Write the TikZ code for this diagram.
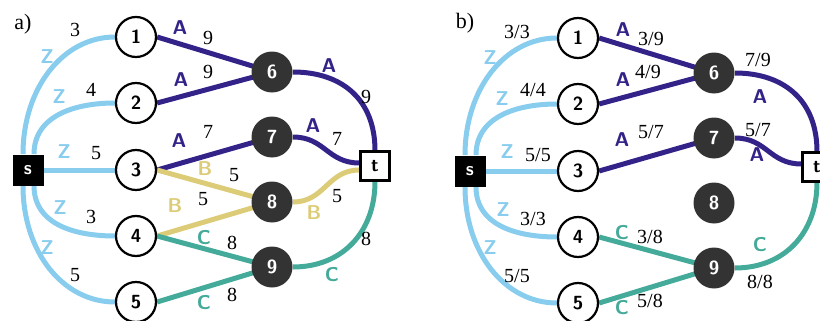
\documentclass[tikz,border=0pt]{standalone}
\usepackage{fontspec}
\setmainfont{Liberation Serif}
\usetikzlibrary{backgrounds}
\definecolor{cZ}{HTML}{88CCEE}
\definecolor{cA}{HTML}{332288}
\definecolor{cB}{HTML}{DDCC77}
\definecolor{cC}{HTML}{44AA99}
\definecolor{cN}{HTML}{333333}
\tikzset{
  nfont/.style={font=\fontsize{9.5}{11}\selectfont\sffamily\bfseries},
  wnode/.style={circle,draw=black,line width=1.1pt,fill=white,minimum size=20pt,inner sep=0pt,nfont},
  dnode/.style={circle,fill=cN,text=white,minimum size=20.5pt,inner sep=0pt,nfont},
  snode/.style={rectangle,fill=black,text=white,minimum size=15.5pt,inner sep=0pt,nfont},
  tnode/.style={rectangle,draw=black,line width=1.1pt,fill=white,minimum size=14.5pt,inner sep=0pt,nfont},
  eZ/.style={draw=cZ,line width=2.5pt},
  eA/.style={draw=cA,line width=2.5pt},
  eB/.style={draw=cB,line width=2.5pt},
  eC/.style={draw=cC,line width=2.5pt},
  num/.style={inner sep=0pt,font=\fontsize{10}{12}\selectfont},
  tag/.style={inner sep=0pt,font=\fontsize{10}{12}\selectfont\sffamily\bfseries},
  tZ/.style={tag,text=cZ},
  tA/.style={tag,text=cA},
  tB/.style={tag,text=cB},
  tC/.style={tag,text=cC},
}
\begin{document}
\begin{tikzpicture}[x=0.5pt,y=-0.5pt]
\useasboundingbox (0,0) rectangle (820,321);
% ---------------- panel a ----------------
\node[num,font=\fontsize{11}{13}\selectfont] (la) at (23,24) {a)};
\node[snode] (as) at (28,170) {s};
\node[tnode] (at) at (375,166) {t};
\node[wnode] (a1) at (136,37) {1};
\node[wnode] (a2) at (136,103) {2};
\node[wnode] (a3) at (136,170) {3};
\node[wnode] (a4) at (136,236) {4};
\node[wnode] (a5) at (136,302) {5};
\node[dnode] (a6) at (272,72) {6};
\node[dnode] (a7) at (272,137) {7};
\node[dnode] (a8) at (272,202) {8};
\node[dnode] (a9) at (272,267) {9};
\begin{pgfonlayer}{background}
\path[eZ] ([xshift=-2.5pt]as.north) .. controls +(0,-66) and +(-52,0) .. (a1.west);
\path[eZ] ([xshift=3pt]as.north) .. controls +(0,-39) and +(-39,0) .. (a2.west);
\path[eZ] (as.east) -- (a3.west);
\path[eZ] ([xshift=3pt]as.south) .. controls +(0,39) and +(-39,0) .. (a4.west);
\path[eZ] ([xshift=-2.5pt]as.south) .. controls +(0,66) and +(-52,0) .. (a5.west);
\path[eA] (a1.east) -- (a6.center);
\path[eA] (a2.east) -- (a6.center);
\path[eA] (a3.east) -- (a7.center);
\path[eB] (a3.east) -- (a8.center);
\path[eB] (a4.east) -- (a8.center);
\path[eC] (a4.east) -- (a9.center);
\path[eC] (a5.east) -- (a9.center);
\path[eA] (a6.east) .. controls +(50,0) and +(0,-50) .. (at.north);
\path[eC] (a9.east) .. controls +(50,0) and +(0,50) .. (at.south);
\path[eA] (a7.east) .. controls +(32,0) and +(-32,0) .. ([yshift=1.5pt]at.west);
\path[eB] (a8.east) .. controls +(32,0) and +(-32,0) .. ([yshift=-2pt]at.west);
\end{pgfonlayer}
\node[tZ] (za1) at (47,57) {Z};
\node[tZ] (za2) at (59,97) {Z};
\node[tZ] (za3) at (64,152) {Z};
\node[tZ] (za4) at (60,208) {Z};
\node[tZ] (za5) at (47,248) {Z};
\node[num] (na1) at (75,30) {3};
\node[num] (na2) at (91,90) {4};
\node[num] (na3) at (96,153) {5};
\node[num] (na4) at (91,217) {3};
\node[num] (na5) at (75,275) {5};
\node[tA] (xa16) at (180,28) {A};
\node[num] (ya16) at (208,38) {9};
\node[tA] (xa26) at (181,80) {A};
\node[num] (ya26) at (208,72) {9};
\node[tA] (xa37) at (179,141) {A};
\node[num] (ya37) at (208,132) {7};
\node[tB] (xa38) at (205,169) {B};
\node[num] (ya38) at (234,175) {5};
\node[tB] (xa48) at (175,206) {B};
\node[num] (ya48) at (203,199) {5};
\node[tC] (xa49) at (204,238) {C};
\node[num] (ya49) at (232,243) {8};
\node[tC] (xa59) at (204,303) {C};
\node[num] (ya59) at (232,295) {8};
\node[tA] (xa6t) at (329,66) {A};
\node[num] (ya6t) at (366,97) {9};
\node[tA] (xa7t) at (313,126) {A};
\node[num] (ya7t) at (337,139) {7};
\node[tB] (xa8t) at (314,213) {B};
\node[num] (ya8t) at (337,196) {5};
\node[tC] (xa9t) at (332,275) {C};
\node[num] (ya9t) at (366,239) {8};
% ---------------- panel b ----------------
\node[num,font=\fontsize{11}{13}\selectfont] (lb) at (465,23) {b)};
\begin{scope}[shift={(442,1)}]
\node[snode] (bs) at (28,170) {s};
\node[tnode] (bt) at (375,166) {t};
\node[wnode] (b1) at (136,37) {1};
\node[wnode] (b2) at (136,103) {2};
\node[wnode] (b3) at (136,170) {3};
\node[wnode] (b4) at (136,236) {4};
\node[wnode] (b5) at (136,302) {5};
\node[dnode] (b6) at (272,72) {6};
\node[dnode] (b7) at (272,137) {7};
\node[dnode] (b8) at (272,202) {8};
\node[dnode] (b9) at (272,267) {9};
\end{scope}
\begin{pgfonlayer}{background}
\path[eZ] ([xshift=-2.5pt]bs.north) .. controls +(0,-66) and +(-52,0) .. (b1.west);
\path[eZ] ([xshift=3pt]bs.north) .. controls +(0,-39) and +(-39,0) .. (b2.west);
\path[eZ] (bs.east) -- (b3.west);
\path[eZ] ([xshift=3pt]bs.south) .. controls +(0,39) and +(-39,0) .. (b4.west);
\path[eZ] ([xshift=-2.5pt]bs.south) .. controls +(0,66) and +(-52,0) .. (b5.west);
\path[eA] (b1.east) -- (b6.center);
\path[eA] (b2.east) -- (b6.center);
\path[eA] (b3.east) -- (b7.center);
\path[eC] (b4.east) -- (b9.center);
\path[eC] (b5.east) -- (b9.center);
\path[eA] (b6.east) .. controls +(50,0) and +(0,-50) .. (bt.north);
\path[eC] (b9.east) .. controls +(50,0) and +(0,50) .. (bt.south);
\path[eA] (b7.east) .. controls +(32,0) and +(-32,0) .. ([yshift=1.5pt]bt.west);
\end{pgfonlayer}
\node[tZ] (zb1) at (490,58) {Z};
\node[tZ] (zb2) at (502,99) {Z};
\node[tZ] (zb3) at (507,152) {Z};
\node[tZ] (zb4) at (503,210) {Z};
\node[tZ] (zb5) at (490,248) {Z};
\node[num] (nb1) at (517,32) {3/3};
\node[num] (nb2) at (533,90) {4/4};
\node[num] (nb3) at (538,155) {5/5};
\node[num] (nb4) at (533,219) {3/3};
\node[num] (nb5) at (517,276) {5/5};
\node[tA] (xb16) at (623,30) {A};
\node[num] (yb16) at (651,39) {3/9};
\node[tA] (xb26) at (623,80) {A};
\node[num] (yb26) at (648,72) {4/9};
\node[tA] (xb37) at (622,140) {A};
\node[num] (yb37) at (651,132) {5/7};
\node[tC] (xb49) at (622,233) {C};
\node[num] (yb49) at (650,237) {3/8};
\node[tC] (xb59) at (622,308) {C};
\node[num] (yb59) at (650,301) {5/8};
\node[num] (yb6t) at (758,60) {7/9};
\node[tA] (xb6t) at (760,97) {A};
\node[num] (yb7t) at (758,130) {5/7};
\node[tA] (xb7t) at (757,155) {A};
\node[tC] (xb9t) at (760,245) {C};
\node[num] (yb9t) at (760,282) {8/8};
\end{tikzpicture}
\end{document}
